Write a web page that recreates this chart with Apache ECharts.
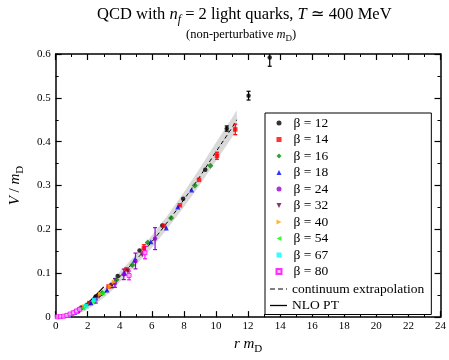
<!DOCTYPE html>
<html>
<head>
<meta charset="utf-8">
<script src="https://cdn.jsdelivr.net/npm/echarts@6/dist/echarts.min.js"></script>
<style>html,body{margin:0;padding:0;background:#fff}#c{width:449px;height:360px}</style>
</head>
<body>
<div id="c"></div>
<script>
// ---- data: [r m_D, V/m_D, error] ----
const b12 = [[1.6,0.022,0],[2.5,0.047,0],[3.87,0.094,0],[5.23,0.152,0],[6.65,0.209,0],[7.95,0.27,0],[9.33,0.336,0],[10.67,0.43,0.006],[12.03,0.505,0.01],[13.35,0.592,0.02]];
const b14 = [[1.3,0.013,0],[2.1,0.032,0],[3.3,0.07,0],[4.42,0.109,0],[5.5,0.157,0.008],[6.75,0.208,0],[7.75,0.255,0],[8.94,0.313,0],[10.06,0.368,0.008],[11.2,0.428,0.012]];
const b16 = [[1.1,0.009,0],[1.9,0.027,0],[2.9,0.055,0],[3.8,0.085,0],[4.78,0.119,0],[5.74,0.17,0],[7.2,0.226,0],[8.68,0.3,0],[9.65,0.345,0]];
const b18 = [[1.2,0.011,0],[2.2,0.033,0],[3.2,0.062,0],[4.3,0.1,0],[4.92,0.13,0],[5.94,0.172,0],[6.9,0.203,0],[7.62,0.251,0],[8.48,0.29,0]];
const b24 = [[1.4,0.014,0.004],[2.5,0.04,0.008],[3.7,0.078,0.01],[4.25,0.0975,0.012],[4.98,0.128,0.018],[6.2,0.179,0.025]];
const b32 = [[1.5,0.017,0],[2.7,0.047,0],[3.5,0.072,0.005],[4.5,0.105,0],[5.4,0.142,0]];
const b40 = [[1.8,0.024,0],[2.8,0.052,0],[3.4,0.07,0],[3.65,0.08,0]];
const b54 = [[1.0,0.007,0],[1.7,0.02,0],[2.3,0.036,0],[2.9,0.054,0]];
const b67 = [[0.8,0.004,0],[1.25,0.012,0],[1.9,0.025,0],[2.4,0.039,0]];
const b80 = [[0.1,0.0005,0],[0.3,0.001,0],[0.5,0.002,0],[0.7,0.004,0],[0.9,0.007,0],[1.1,0.01,0],[1.3,0.014,0],[1.5,0.018,0],[4.58,0.095,0.01],[5.57,0.147,0.014]];

const cont_r  = [0,0.5,1,1.5,2,2.5,3,3.5,4,4.5,5,6,7,8,9,10,11,11.3];
const cont_V  = [0,0.002,0.007,0.015,0.026,0.039,0.054,0.071,0.092,0.111,0.13,0.172,0.218,0.268,0.321,0.377,0.432,0.45];
const band_lo = [0,0.0,0.003,0.009,0.018,0.03,0.044,0.06,0.08,0.099,0.118,0.158,0.203,0.251,0.302,0.356,0.41,0.428];
const band_hi = [0,0.004,0.011,0.021,0.034,0.048,0.064,0.082,0.104,0.123,0.142,0.186,0.233,0.285,0.34,0.398,0.454,0.472];

const nlo_r = [0.6,1,1.5,2,2.5,3];
const nlo_V = [0,0.006,0.017,0.032,0.05,0.069];

const xTicks = [0,24,2];
const yTicks = [0,0.6,0.1];

// ---- chart ----
const SERIF = '"Liberation Serif", "DejaVu Serif", serif';
const TRI_DOWN = 'path://M0,0L10,0L5,10Z';
const TRI_RIGHT = 'path://M0,0L10,5L0,10Z';
const TRI_LEFT = 'path://M10,0L0,5L10,10Z';
const sets = [
  {name:'β = 12', d:b12, color:'#000000', symbol:'circle'},
  {name:'β = 14', d:b14, color:'#ff0000', symbol:'rect'},
  {name:'β = 16', d:b16, color:'#008b00', symbol:'diamond'},
  {name:'β = 18', d:b18, color:'#0000ff', symbol:'triangle'},
  {name:'β = 24', d:b24, color:'#9400d3', symbol:'circle'},
  {name:'β = 32', d:b32, color:'#670748', symbol:TRI_DOWN},
  {name:'β = 40', d:b40, color:'#ffa500', symbol:TRI_RIGHT},
  {name:'β = 54', d:b54, color:'#00ff00', symbol:TRI_LEFT},
  {name:'β = 67', d:b67, color:'#00ffff', symbol:'rect'},
  {name:'β = 80', d:b80, color:'#ff00ff', symbol:'rect'}
];

const series = [];
// grey uncertainty band as a polygon built from the band arrays through the axis scales
series.push({type:'custom', name:'band', data:[[cont_r[0], band_lo[0]]], encode:{x:0,y:1}, silent:true, clip:true, z:1,
  renderItem:(params, api) => {
    const pts = [];
    for (let i = 0; i < cont_r.length; i++) pts.push(api.coord([cont_r[i], band_hi[i]]));
    for (let i = cont_r.length - 1; i >= 0; i--) pts.push(api.coord([cont_r[i], band_lo[i]]));
    return {type:'polygon', shape:{points:pts, smooth:0}, style:{fill:'#d9d9d9', stroke:null}};
  }});
series.push({type:'line', name:'continuum extrapolation', data:cont_r.map((r,i)=>[r,cont_V[i]]), symbol:'none', showSymbol:false, smooth:true,
  lineStyle:{color:'#000', width:1, type:[4,3]}, itemStyle:{color:'#000'}, z:2});
series.push({type:'line', name:'NLO PT', data:nlo_r.map((r,i)=>[r,nlo_V[i]]), symbol:'none', showSymbol:false, smooth:true,
  lineStyle:{color:'#000', width:1.2}, itemStyle:{color:'#000'}, z:2});

sets.forEach(s => {
  series.push({type:'custom', name:'err '+s.name, data:s.d, encode:{x:0,y:1}, silent:true, clip:true, z:3,
    renderItem:(params, api) => {
      const x = api.value(0), y = api.value(1), e = api.value(2);
      if (!e) return null;
      const t = api.coord([x, y+e]), b = api.coord([x, y-e]);
      const st = {stroke:s.color, lineWidth:1.2};
      return {type:'group', children:[
        {type:'line', shape:{x1:t[0],y1:t[1],x2:b[0],y2:b[1]}, style:st},
        {type:'line', shape:{x1:t[0]-2,y1:t[1],x2:t[0]+2,y2:t[1]}, style:st},
        {type:'line', shape:{x1:b[0]-2,y1:b[1],x2:b[0]+2,y2:b[1]}, style:st}
      ]};
    }});
  series.push({type:'scatter', name:s.name, data:s.d.map(p=>[p[0],p[1]]), symbol:s.symbol,
    symbolSize: s.name==='β = 80' ? 4 : (s.symbol==='diamond' ? 6 : (s.symbol==='rect' || s.symbol==='circle' ? 4.5 : 5)),
    itemStyle: s.name==='β = 80' ? {color:'#ffb0ff', borderColor:s.color, borderWidth:1} : {color:s.color},
    z:4});
});

const axisCommon = {
  type:'value', splitLine:{show:false},
  axisLine:{show:true, onZero:false, lineStyle:{color:'#000', width:1.5}},
  axisTick:{show:true, inside:true, length:6, lineStyle:{color:'#000', width:1.2}},
  minorTick:{show:true, splitNumber:2, length:3, lineStyle:{color:'#000', width:1}},
  axisLabel:{color:'#000', fontFamily:SERIF, fontSize:11}
};

const richBase = (size) => ({
  n:{fontFamily:SERIF, fontSize:size, fontWeight:'normal', color:'#000', lineHeight:size+6},
  i:{fontFamily:SERIF, fontSize:size, fontWeight:'normal', fontStyle:'italic', color:'#000', lineHeight:size+6},
  s:{fontFamily:SERIF, fontSize:Math.round(size*0.7), fontWeight:'normal', fontStyle:'italic', color:'#000', verticalAlign:'bottom', lineHeight:Math.round(size*0.7)+1},
  su:{fontFamily:SERIF, fontSize:Math.round(size*0.7), fontWeight:'normal', color:'#000', verticalAlign:'bottom', lineHeight:Math.round(size*0.7)+1}
});

const legendText = {fontFamily:SERIF, fontSize:13.5, color:'#000', lineHeight:14};

const option = {
  animation:false,
  backgroundColor:'#fff',
  title:[
    {text:'{n|QCD with }{i|n}{s|f}{n| = 2 light quarks, }{i|T}{n| ≃ 400 MeV}', left:97, top:3, padding:0,
      textStyle:{fontWeight:'normal', rich:richBase(16.5)}},
    {text:'{n|(non-perturbative }{i|m}{su|D}{n|)}', left:186, top:25, padding:0,
      textStyle:{fontWeight:'normal', rich:richBase(12.5)}}
  ],
  grid:{left:48, right:7, top:54, bottom:29, containLabel:false},
  xAxis:[
    Object.assign({}, axisCommon, {min:xTicks[0], max:xTicks[1], interval:xTicks[2], position:'bottom',
      name:'{i|r m}{su|D}', nameLocation:'middle', nameGap:12, nameTextStyle:{rich:richBase(15)},
      axisLabel:Object.assign({}, axisCommon.axisLabel, {margin:4})}),
    Object.assign({}, axisCommon, {min:xTicks[0], max:xTicks[1], interval:xTicks[2], position:'top',
      axisLabel:{show:false}})
  ],
  yAxis:[
    Object.assign({}, axisCommon, {min:yTicks[0], max:yTicks[1], interval:yTicks[2], position:'left',
      name:'{i|V}{n| / }{i|m}{su|D}', nameLocation:'middle', nameGap:26, nameRotate:90, nameTextStyle:{rich:richBase(15)},
      axisLabel:Object.assign({}, axisCommon.axisLabel, {margin:5})}),
    Object.assign({}, axisCommon, {min:yTicks[0], max:yTicks[1], interval:yTicks[2], position:'right',
      axisLabel:{show:false}})
  ],
  legend:[
    { // box + line entries
      orient:'vertical', left:265, top:113, z:5,
      data:[
        {name:'continuum extrapolation', icon:'path://M0,0h5v1h-5z M8,0h5v1h-5z M16,0h1v1h-1z'},
        {name:'NLO PT', icon:'rect'}
      ],
      backgroundColor:'#fff', borderColor:'#000', borderWidth:1, borderRadius:0,
      padding:[169,7,2,5], itemGap:2.5, itemWidth:17, itemHeight:1.3,
      textStyle:legendText, selectedMode:false
    },
    { // marker entries
      orient:'vertical', left:275.5, top:116, z:6,
      data:sets.map(s=>s.name),
      padding:0, itemGap:2.5, itemWidth:5, itemHeight:5,
      textStyle:Object.assign({}, legendText, {padding:[0,0,0,7]}), selectedMode:false
    }
  ],
  series:series
};

const chart = echarts.init(document.getElementById('c'), null, {renderer:'canvas'});
chart.setOption(option);
</script>
</body>
</html>
